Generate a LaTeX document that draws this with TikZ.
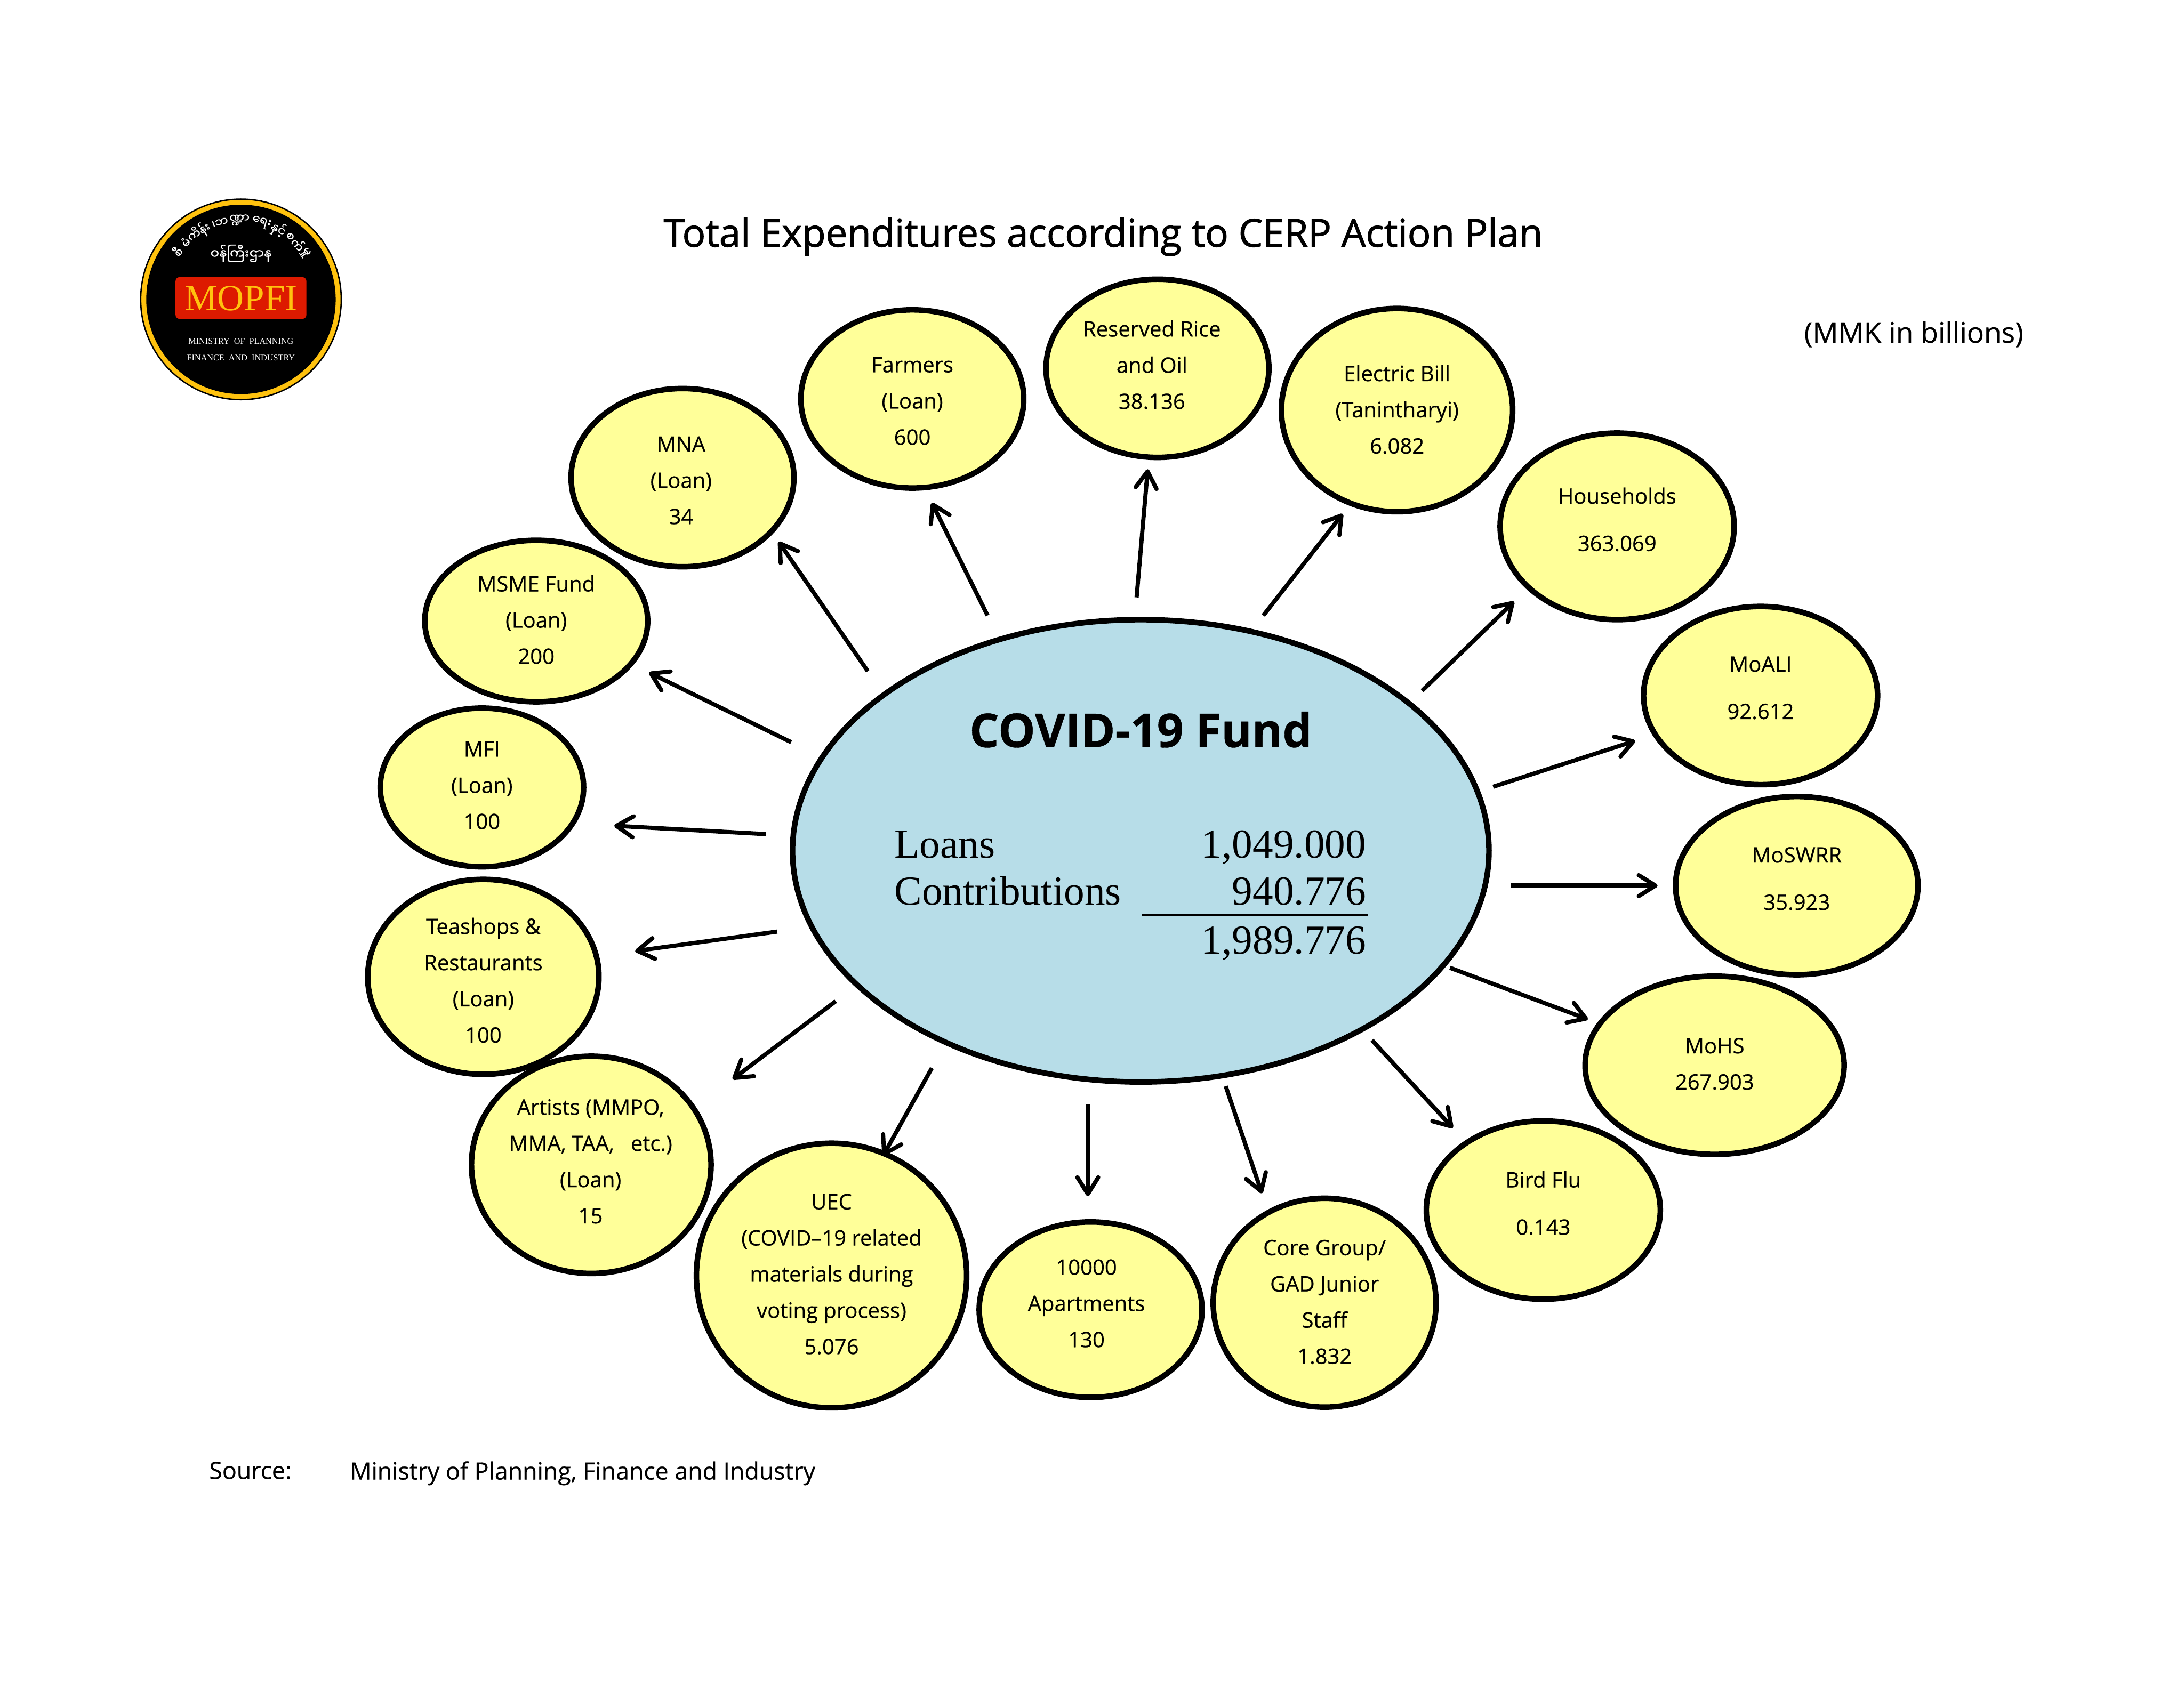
\documentclass[tikz,border=0pt]{standalone}
\usepackage{fontspec}
\usepackage{tikz}
\usetikzlibrary{shapes.geometric,arrows.meta,calc}
\setmainfont[FakeBold=0.5]{Open Sans}
\newfontfamily\titlef[FakeBold=1.4]{Open Sans}
\newfontfamily\timesf{Liberation Serif}
\newfontfamily\mmfont[Script=Myanmar,FakeBold=0.5]{Noto Sans Myanmar UI}
\definecolor{bub}{HTML}{FFFF99}
\definecolor{core}{HTML}{B7DDE8}
\definecolor{logored}{HTML}{DD1A00}
\definecolor{logogold}{HTML}{FFC20E}
\tikzset{
 x=1pt,y=-1pt,
 bubble/.style={draw=black,line width=4pt,fill=bub,ellipse,inner sep=0pt,outer sep=0pt},
 lab/.style={align=center,font=\fontsize{15.3}{26}\selectfont,inner sep=0pt},
 conn/.style={draw=black,line width=3pt,-{Straight Barb[length=12pt,width=15pt,line width=3pt,round]}},
 toptext/.style={inner sep=0pt},
 numb/.style={inner sep=0pt,anchor=base east,font=\timesf\fontsize{29.6}{30}\selectfont},
 namt/.style={inner sep=0pt,anchor=base west,font=\timesf\fontsize{29.6}{30}\selectfont},
}
\newcommand{\bub}[5]{\node[bubble,minimum width=#4*2pt,minimum height=#5*2pt] (#1) at (#2,#3) {};}
\newcommand{\conn}[5]{\draw[conn] ($(main)+(#2,#3)$) -- ($(#1)+(#4,#5)$);}
\begin{document}
\begin{tikzpicture}
\useasboundingbox (0,0) rectangle (1568,1209.7);
\fill[white] (0,0) rectangle (1568,1209.7);

% logo
\node[circle,draw=black,line width=1pt,fill=logogold,minimum size=144pt,inner sep=0pt] (logoOuter) at (173,215) {};
\node[circle,fill=black,minimum size=136pt,inner sep=0pt] (logoInner) at (173,215) {};
\node[fill=logored,rounded corners=3pt,minimum width=94pt,minimum height=30pt,inner sep=0pt] (logoBar) at (173,214) {};
\node[inner sep=0pt,text=logogold,font=\timesf\fontsize{26.5}{26.5}\selectfont] (logoName) at (173,214.5) {MOPFI};
\node[inner sep=0pt,text=white,font=\timesf\fontsize{6.2}{6.2}\selectfont] (logoL1) at (173,245) {MINISTRY\ \ OF\ \ PLANNING};
\node[inner sep=0pt,text=white,font=\timesf\fontsize{6.2}{6.2}\selectfont] (logoL2) at (173,257) {FINANCE\ \ AND\ \ INDUSTRY};
\node[inner sep=0pt,text=white,font=\mmfont\fontsize{9.5}{9.5}\selectfont] (logoMM) at (173,182) {ဝန်ကြီးဌာန};
\foreach \i/\a/\t in {1/143/စီ,2/134/မံ,3/122/ကိန်း,4/110/၊,5/104/ဘ,6/91/ဏ္ဍာ,7/75/ရေး,8/62/နှင့်,9/52/စ,10/44/က်,11/36/မှု}{
  \node[inner sep=0pt,text=white,rotate=\a-90,font=\mmfont\fontsize{8.5}{8.5}\selectfont] (logoArc\i) at ({173+57*cos(\a)},{215-57*sin(\a)}) {\t};
}

% title
\node[toptext,font=\titlef\fontsize{27.7}{27.7}\selectfont] (title) at (792,170) {Total Expenditures according to CERP Action Plan};
\node[toptext,font=\fontsize{20.4}{20.4}\selectfont] (unit) at (1374,240) {(MMK in billions)};
\node[toptext,anchor=west,font=\fontsize{17.1}{17.1}\selectfont] (src) at (150,1056) {Source:};
\node[toptext,anchor=west,font=\fontsize{17.1}{17.1}\selectfont] (srcv) at (251,1058) {Ministry of Planning, Finance and Industry};

% centre
\node[draw=black,line width=4pt,fill=core,ellipse,inner sep=0pt,outer sep=0pt,minimum width=500pt,minimum height=332pt] (main) at (819,611) {};
\node[inner sep=0pt,font=\bfseries\fontsize{33.5}{33.5}\selectfont] (fund) at (819,524) {COVID-19 Fund};
\node[namt] (loans) at (642,616) {Loans};
\node[namt] (contr) at (642,650) {Contributions};
\node[numb] (vloans) at (981,616) {1,049.000};
\node[numb] (vcontr) at (981,650) {940.776};
\node[numb] (vtotal) at (981,685) {1,989.776};
\coordinate (ruleA) at (820,657);
\coordinate (ruleB) at (982,657);
\draw[line width=1.4pt] (ruleA) -- (ruleB);

% bubbles
\bub{farmers}{655}{286.5}{80}{64}
\bub{rice}{831}{264.5}{80}{64}
\bub{electric}{1003}{294.5}{83}{73}
\bub{house}{1161}{378}{84}{67}
\bub{moali}{1264}{499.5}{84}{64}
\bub{moswrr}{1290}{636}{87}{64}
\bub{mohs}{1231}{765}{93}{64}
\bub{bird}{1108}{869}{84}{64}
\bub{coreg}{951}{935.5}{80}{75}
\bub{apart}{783}{940.5}{80}{63}
\bub{uec}{597}{916}{97}{95}
\bub{artists}{424.5}{836.5}{86}{78}
\bub{teashop}{347}{701.5}{83}{70}
\bub{mfi}{346}{565.5}{73}{57}
\bub{msme}{385}{446}{80}{58}
\bub{mna}{490}{343}{80}{64}

% labels
\node[lab] (tfarmers) at (655,288) {Farmers\\(Loan)\\600};
\node[lab] (trice) at (827,262) {Reserved Rice\\and Oil\\38.136};
\node[lab] (telectric) at (1003,294) {Electric Bill\\(Tanintharyi)\\6.082};
\node[lab] (thouse) at (1161,373) {Households\\[8pt]363.069};
\node[lab] (tmoali) at (1264,494) {MoALI\\[8pt]92.612};
\node[lab] (tmoswrr) at (1290,631) {MoSWRR\\[8pt]35.923};
\node[lab] (tmohs) at (1231,764) {MoHS\\267.903};
\node[lab] (tbird) at (1108,864) {Bird Flu\\[8pt]0.143};
\node[lab] (tcoreg) at (951,935) {Core Group/\\GAD Junior\\Staff\\1.832};
\node[lab] (tapart) at (780,936) {10000\\Apartments\\130};
\node[lab] (tuec) at (597,915) {UEC\\(COVID–19 related\\materials during\\voting process)\\5.076};
\node[lab] (tartists) at (424,834) {Artists (MMPO,\\MMA, TAA,\ \ \ etc.)\\(Loan)\\15};
\node[lab] (tteashop) at (347,704) {Teashops \&\\Restaurants\\(Loan)\\100};
\node[lab] (tmfi) at (346,564) {MFI\\(Loan)\\100};
\node[lab] (tmsme) at (385,445) {MSME Fund\\(Loan)\\200};
\node[lab] (tmna) at (489,345) {MNA\\(Loan)\\34};

% connectors
\conn{farmers}{-110}{-169}{14}{74.5}
\conn{rice}{-3}{-182}{-7}{72.5}
\conn{electric}{88}{-169}{-39}{74.5}
\conn{house}{202}{-115}{-74}{54}
\conn{moali}{253}{-46}{-90}{32.5}
\conn{moswrr}{266}{25}{-100}{0}
\conn{mohs}{222}{84}{-91}{-33}
\conn{bird}{166}{136}{-65}{-59}
\conn{coreg}{61}{169}{-45}{-78.5}
\conn{apart}{-38}{182}{-2}{-81.5}
\conn{uec}{-150}{156}{37}{-86}
\conn{artists}{-219}{108}{101.5}{-61.5}
\conn{teashop}{-261}{58}{109}{-18.5}
\conn{mfi}{-269}{-12}{95}{27.5}
\conn{msme}{-251}{-78}{81}{37}
\conn{mna}{-196}{-129}{69}{46}
\end{tikzpicture}
\end{document}
